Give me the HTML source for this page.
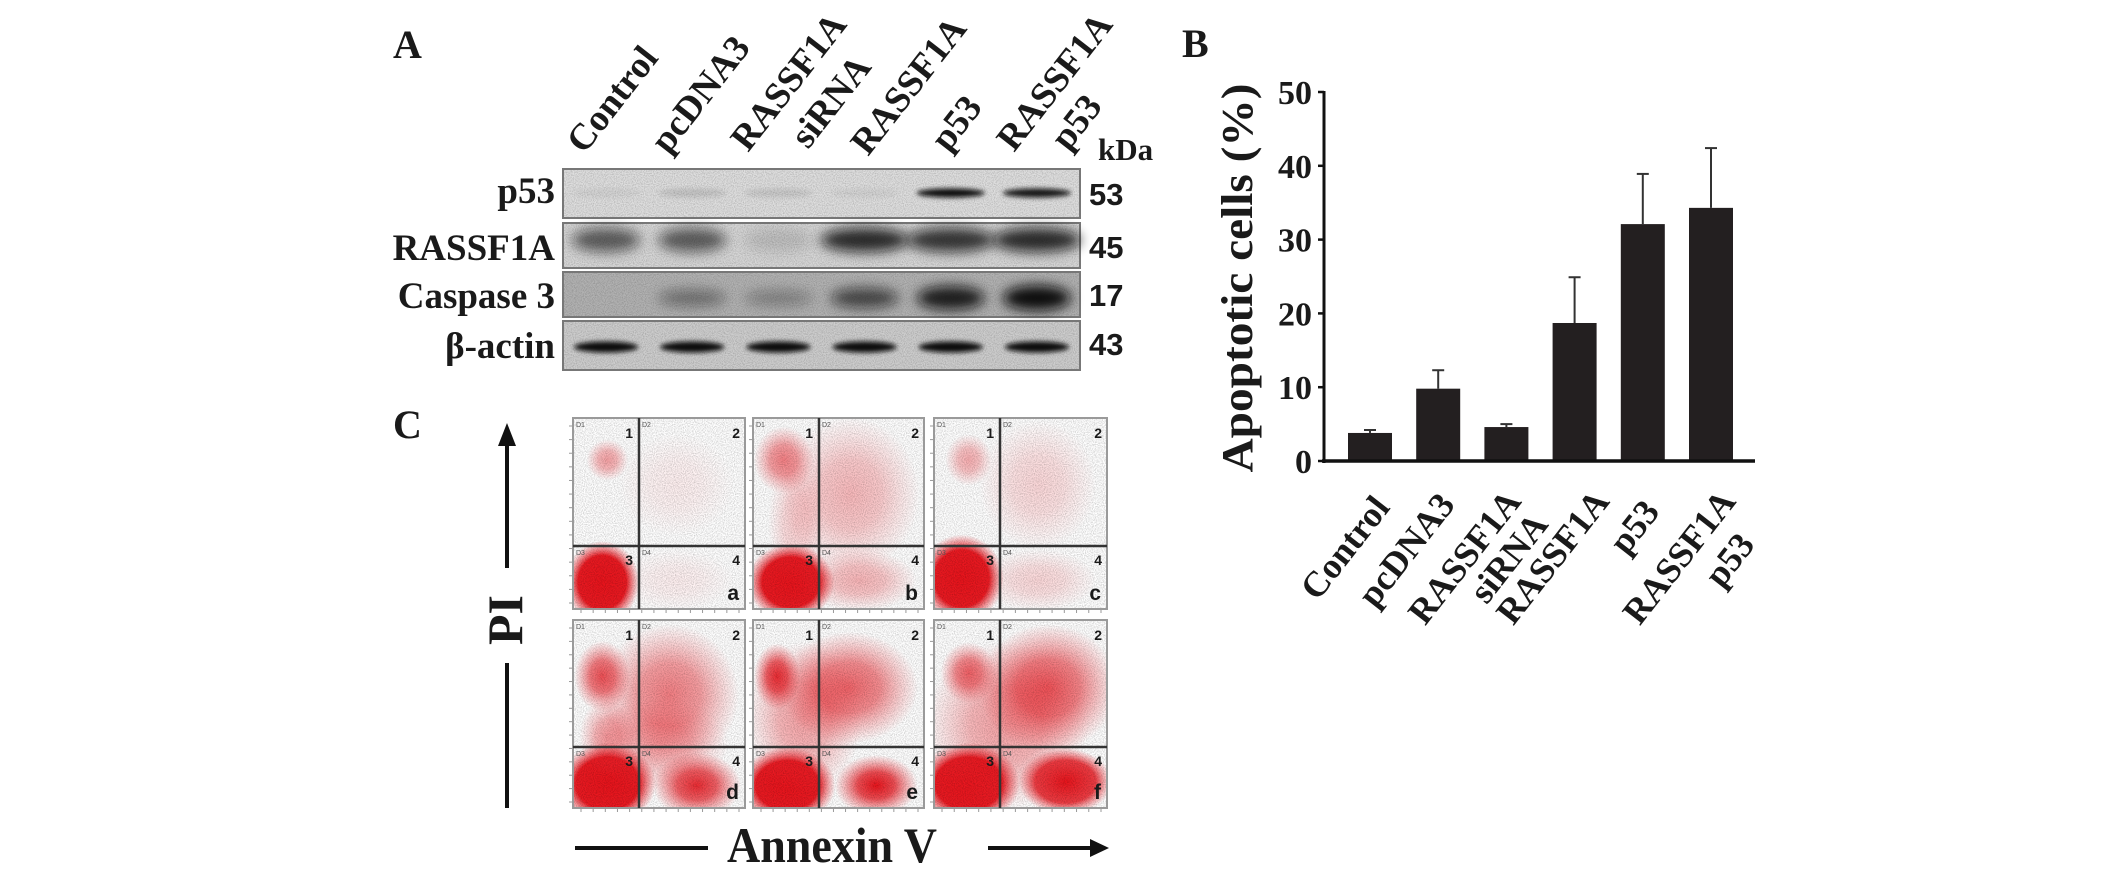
<!DOCTYPE html>
<html><head><meta charset="utf-8"><title>RASSF1A / p53 apoptosis figure</title>
<style>
html,body{margin:0;padding:0;background:#fff;}
svg{display:block;}
.serif{font-family:"Liberation Serif",serif;font-weight:bold;fill:#1a1a1a;}
.sans{font-family:"Liberation Sans",sans-serif;font-weight:bold;fill:#1a1a1a;}
</style></head>
<body>
<svg id="fig" width="2126" height="872" viewBox="0 0 2126 872" xmlns="http://www.w3.org/2000/svg">
<defs>
  <filter id="blur3" x="-20%" y="-80%" width="140%" height="260%"><feGaussianBlur stdDeviation="2.5"/></filter>
  <filter id="blur6" x="-20%" y="-80%" width="140%" height="260%"><feGaussianBlur stdDeviation="6"/></filter>
  <filter id="speck" x="0" y="0" width="100%" height="100%">
    <feTurbulence type="fractalNoise" baseFrequency="0.9" numOctaves="1" seed="3" result="n"/>
    <feColorMatrix type="matrix" values="0 0 0 0 0  0 0 0 0 0  0 0 0 0 0  0 0 0 -1.2 0.75" in="n" result="m"/>
    <feComposite in="m" in2="SourceGraphic" operator="in"/>
  </filter>
</defs>

<g id="panelA">
  <text class="serif" x="393" y="58" font-size="40">A</text>
  <g id="laneLabels"></g>
  <g id="blotRows"></g>
  <text class="serif" x="1098" y="160" font-size="31">kDa</text>
</g>

<g id="panelB">
  <text class="serif" x="1182" y="57" font-size="40">B</text>
  <text class="serif" transform="translate(1252,278) rotate(-90)" text-anchor="middle" font-size="44" textLength="389" lengthAdjust="spacingAndGlyphs">Apoptotic cells (%)</text>
  <g id="bars"></g>
  <g id="axes"></g>
</g>

<g id="panelC">
  <text class="serif" x="393" y="438" font-size="40">C</text>
  <g>
    <line x1="507" y1="440" x2="507" y2="568" stroke="#111" stroke-width="4"/>
    <polygon points="498,446 516,446 507,423" fill="#111"/>
    <line x1="507" y1="663" x2="507" y2="808" stroke="#111" stroke-width="4"/>
  </g>
  <text class="serif" transform="translate(522,620) rotate(-90)" text-anchor="middle" font-size="50">PI</text>
  <g>
    <line x1="575" y1="848" x2="708" y2="848" stroke="#111" stroke-width="4"/>
    <line x1="988" y1="848" x2="1092" y2="848" stroke="#111" stroke-width="4"/>
    <polygon points="1090,839 1090,857 1109,848" fill="#111"/>
  </g>
  <text class="serif" x="832" y="862" text-anchor="middle" font-size="50" textLength="210" lengthAdjust="spacingAndGlyphs">Annexin V</text>
  <g id="flow"></g>
</g>
</svg>

<script>
// ---------- Bar chart data (panel B) ----------
const categories = ["Control", "pcDNA3", "RASSF1A siRNA", "RASSF1A", "p53", "RASSF1A p53"];
const values = [3.8, 9.8, 4.6, 18.7, 32.1, 34.3];
const errors = [0.4, 2.5, 0.4, 6.2, 6.8, 8.1];
const yTicks = [0, 10, 20, 30, 40, 50];
const xLabelLines = [["Control"], ["pcDNA3"], ["RASSF1A", "siRNA"], ["RASSF1A"], ["p53"], ["RASSF1A", "p53"]];

// ---------- Blot data (panel A) ----------
const laneText = [["Control"], ["pcDNA3"], ["RASSF1A", "siRNA"], ["RASSF1A"], ["p53"], ["RASSF1A", "p53"]];
const blotProteins = ["p53", "RASSF1A", "Caspase 3", "β-actin"];
const blotKda = ["53", "45", "17", "43"];
const p53Band = [0.05, 0.12, 0.1, 0.05, 1.0, 0.95];
const rassfBand = [0.6, 0.6, 0.12, 0.85, 0.8, 0.85];
const caspBand = [0.0, 0.4, 0.3, 0.65, 0.9, 1.0];
const actinBand = [1.0, 1.0, 1.0, 1.0, 1.0, 1.0];

// ---------- Flow cytometry clusters (panel C): [cx, cy, rx, ry, density] relative ----------
const flowLetters = ["a", "b", "c", "d", "e", "f"];
const flowA = [[.17,.86,.16,.16,1.3],[.2,.22,.09,.08,.4],[.6,.35,.25,.2,.07],[.6,.85,.25,.12,.07]];
const flowB = [[.22,.86,.19,.15,1.3],[.18,.22,.13,.13,.55],[.57,.4,.3,.3,.3],[.62,.85,.25,.12,.32],[.25,.55,.12,.25,.2]];
const flowC = [[.16,.84,.18,.17,1.3],[.2,.22,.1,.1,.35],[.6,.35,.25,.25,.17],[.6,.85,.25,.12,.17]];
const flowD = [[.2,.87,.21,.16,1.3],[.17,.3,.12,.14,.75],[.56,.4,.3,.28,.55],[.72,.88,.19,.13,.9],[.2,.62,.12,.15,.4],[.5,.66,.3,.18,.35]];
const flowE = [[.2,.88,.21,.15,1.3],[.14,.3,.1,.13,.9],[.56,.36,.3,.22,.65],[.72,.88,.18,.12,1.0],[.3,.52,.25,.3,.4]];
const flowF = [[.2,.87,.22,.16,1.3],[.2,.28,.12,.12,.65],[.66,.36,.3,.25,.7],[.76,.86,.2,.13,1.1],[.42,.56,.35,.33,.4]];
const flowClusters = [flowA, flowB, flowC, flowD, flowE, flowF];

const NS = "http://www.w3.org/2000/svg";
function mk(tag, attrs, parent) {
  const e = document.createElementNS(NS, tag);
  for (const k in attrs) e.setAttribute(k, attrs[k]);
  if (parent) parent.appendChild(e);
  return e;
}

// ===== Panel B =====
const X0 = 1324, YBASE = 461, PX_PER_UNIT = 7.38, XEND = 1755;
const firstCenter = 1370, step = 68.2, barW = 44;
function yScale(v) { return YBASE - v * PX_PER_UNIT; }
function xScale(i) { return firstCenter + i * step; }
const barsG = document.getElementById("bars");
const axesG = document.getElementById("axes");
// label anchor offsets relative to bar centre (layout, not data)
const labelOffsets = [[[21, 47]], [[18, 44]], [[16, 41], [43, 64]], [[36, 41]], [[18, 51]], [[26, 41], [45, 84]]];
categories.forEach((c, i) => {
  const cx = xScale(i);
  const top = yScale(values[i]);
  const r = mk("rect", {x: cx - barW / 2, y: top, width: barW, height: YBASE - top, fill: "#231f20"}, barsG);
  
  
  const et = yScale(values[i] + errors[i]);
  const eg = mk("g", {stroke: "#333", "stroke-width": 2}, barsG);
  
  
  mk("line", {x1: cx, y1: top, x2: cx, y2: et}, eg);
  mk("line", {x1: cx - 6, y1: et, x2: cx + 6, y2: et}, eg);
  xLabelLines[i].forEach((ln, j) => {
    const off = labelOffsets[i][j];
    const ax = cx + off[0], ay = YBASE + off[1];
    const t = mk("text", {class: "serif", "font-size": 36, "text-anchor": "end", transform: "translate(" + ax + "," + ay + ") rotate(-52)"}, axesG);
    t.textContent = ln;
    
    
  });
});
const yAxis = mk("line", {x1: X0, y1: yScale(50) - 1, x2: X0, y2: YBASE + 2, stroke: "#111", "stroke-width": 3}, axesG);


const xAxis = mk("line", {x1: X0 - 2, y1: YBASE, x2: XEND, y2: YBASE, stroke: "#111", "stroke-width": 3.5}, axesG);


yTicks.forEach(v => {
  const y = yScale(v);
  mk("line", {x1: X0 - 6, y1: y, x2: X0, y2: y, stroke: "#111", "stroke-width": 2.5}, axesG);
  const t = mk("text", {class: "serif", x: 1312, y: y + 12, "font-size": 34, "text-anchor": "end"}, axesG);
  t.textContent = v;
  
  
});

// ===== Panel A =====
const laneG = document.getElementById("laneLabels");
const BL = 563, BR = 1080, laneW = (BR - BL) / 6;
const laneStarts = [[[584,155]],[[668,155]],[[748,153],[808,150]],[[868,157]],[[948,153]],[[1014,153],[1068,152]]];
laneText.forEach((lines, i) => {
  lines.forEach((ln, j) => {
    const p = laneStarts[i][j];
    const t = mk("text", {class: "serif", "font-size": 37, transform: "translate(" + p[0] + "," + p[1] + ") rotate(-52)"}, laneG);
    t.textContent = ln;
    
    
  });
});

const rowsG = document.getElementById("blotRows");
const rowBoxes = [[169, 218], [223, 268], [272, 317], [321, 370]];
const rowBg = ["#dedede", "#d6d6d6", "#b2b2b2", "#cdcdcd"];
const rowBaselines = [203, 260, 308, 358];
const kdaBaselines = [205, 258, 306, 355];
const bandSets = [p53Band, rassfBand, caspBand, actinBand];
const bandY = [193, 240, 298, 347];
const bandH = [9, 24, 18, 11];
rowBoxes.forEach((b, r) => {
  const g = mk("g", {}, rowsG);
  
  
  mk("rect", {x: BL, y: b[0], width: BR - BL, height: b[1] - b[0], fill: rowBg[r], stroke: "#777", "stroke-width": 2}, g);
  mk("rect", {x: BL + 1, y: b[0] + 1, width: BR - BL - 2, height: b[1] - b[0] - 2, fill: "#fff", filter: "url(#speck)", opacity: 0.35}, g);
  bandSets[r].forEach((v, i) => {
    if (v <= 0) return;
    const cx = BL + laneW * (i + 0.5);
    const w = r === 3 ? 64 : (r === 1 && v > 0.7 ? 88 : 68);
    const h = bandH[r] * (r === 2 ? (0.6 + v * 0.8) : 1);
    const e = mk("ellipse", {cx: cx, cy: bandY[r], rx: w / 2, ry: h / 2, fill: "#0d0d0d", opacity: v, filter: r === 3 || r === 0 ? "url(#blur3)" : "url(#blur6)"}, g);
    
    
  });
  const t = mk("text", {class: "serif", x: 555, y: rowBaselines[r], "font-size": 37, "text-anchor": "end"}, rowsG);
  t.textContent = blotProteins[r];
  
  
  const k = mk("text", {class: "sans", x: 1089, y: kdaBaselines[r], "font-size": 31}, rowsG);
  k.textContent = blotKda[r];
  
  
});

// ===== Panel C =====
const flowG = document.getElementById("flow");
const defs = document.querySelector("defs");
const colX = [[573, 639, 745], [753, 819, 924], [934, 1000, 1107]];
const rowY = [[418, 546, 609], [620, 747, 808]];
let gid = 0;
flowClusters.forEach((clusters, p) => {
  const cx = colX[p % 3], ry = rowY[Math.floor(p / 3)];
  const L = cx[0], V = cx[1], R = cx[2], T = ry[0], H = ry[1], B = ry[2];
  const W = R - L, Ht = B - T;
  const g = mk("g", {}, flowG);
  
  
  const clipId = "clip" + p;
  const cp = mk("clipPath", {id: clipId}, defs);
  mk("rect", {x: L, y: T, width: W, height: Ht}, cp);
  mk("rect", {x: L, y: T, width: W, height: Ht, fill: "#fff"}, g);
  const cg = mk("g", {"clip-path": "url(#" + clipId + ")"}, g);
  clusters.forEach(c => {
    const id = "rg" + (gid++);
    const rg = mk("radialGradient", {id: id}, defs);
    const d = c[4];
    mk("stop", {offset: "0", "stop-color": "#e8141c", "stop-opacity": Math.min(1, d)}, rg);
    mk("stop", {offset: d > 1 ? "0.65" : "0.45", "stop-color": "#e8141c", "stop-opacity": Math.min(1, d * 0.75)}, rg);
    mk("stop", {offset: "1", "stop-color": "#f04048", "stop-opacity": 0}, rg);
    const e = mk("ellipse", {cx: L + c[0] * W, cy: T + c[1] * Ht, rx: c[2] * W * 1.35, ry: c[3] * Ht * 1.35, fill: "url(#" + id + ")"}, cg);
    
    
  });
  mk("rect", {x: L, y: T, width: W, height: Ht, fill: "#fff", filter: "url(#speck)", opacity: 0.4}, cg);
  for (let k = 0; k < 14; k++) {
    const ty = T + 8 + k * (Ht - 14) / 13;
    mk("line", {x1: L - 4, y1: ty, x2: L, y2: ty, stroke: "#999", "stroke-width": 1}, g);
    const tx = L + 8 + k * (W - 14) / 13;
    mk("line", {x1: tx, y1: B, x2: tx, y2: B + 4, stroke: "#999", "stroke-width": 1}, g);
  }
  mk("rect", {x: L, y: T, width: W, height: Ht, fill: "none", stroke: "#9a9a9a", "stroke-width": 2}, g);
  mk("line", {x1: V, y1: T, x2: V, y2: B, stroke: "#333", "stroke-width": 2.5}, g);
  mk("line", {x1: L, y1: H, x2: R, y2: H, stroke: "#333", "stroke-width": 2.5}, g);
  const q = [["1", V - 6, T + 20], ["2", R - 5, T + 20], ["3", V - 6, H + 19], ["4", R - 5, H + 19]];
  q.forEach(s => {
    const t = mk("text", {class: "sans", x: s[1], y: s[2], "font-size": 14, "text-anchor": "end"}, g);
    t.textContent = s[0];
    
    
  });
  const dl = [["D1", L + 3, T + 9], ["D2", V + 3, T + 9], ["D3", L + 3, H + 9], ["D4", V + 3, H + 9]];
  dl.forEach(s => {
    const t = mk("text", {x: s[1], y: s[2], "font-size": 7, fill: "#555", "font-family": "Liberation Sans, sans-serif"}, g);
    t.textContent = s[0];
    
    
  });
  const lt = mk("text", {class: "sans", x: R - 6, y: B - 9, "font-size": 21, "text-anchor": "end"}, g);
  lt.textContent = flowLetters[p];
  
  
});
</script>
</body></html>
